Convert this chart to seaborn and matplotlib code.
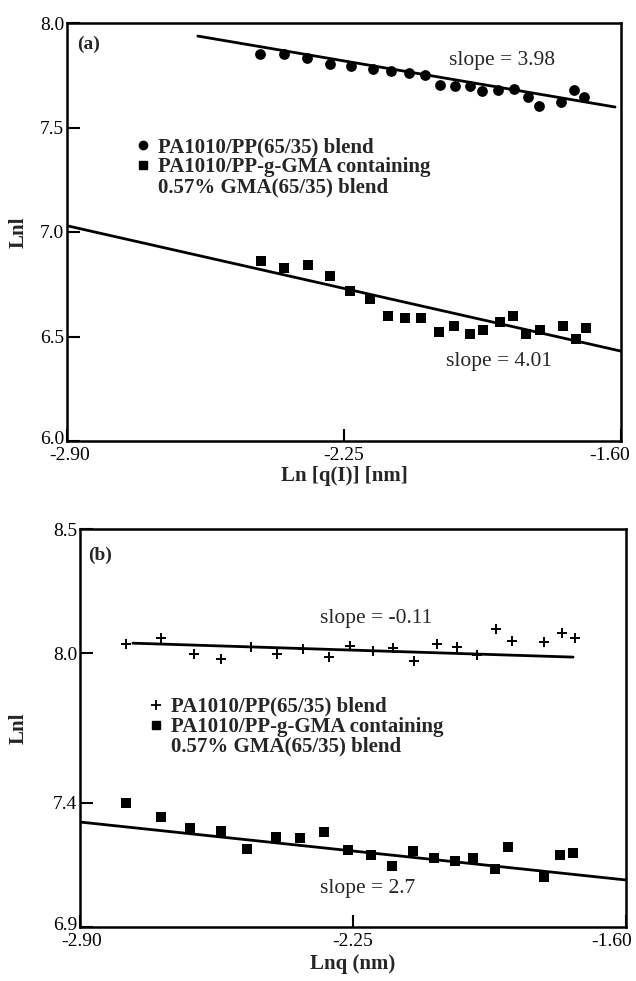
import numpy as np
import pandas as pd
import seaborn as sns
import matplotlib.pyplot as plt
import matplotlib.transforms as mtrans
from matplotlib.lines import Line2D

# ---- panel (a) : Ln I vs Ln q(I) ----
a_circ_x = [-2.448, -2.390, -2.336, -2.282, -2.233, -2.183, -2.140, -2.098, -2.059, -2.024,
            -1.989, -1.955, -1.926, -1.888, -1.852, -1.819, -1.792, -1.740, -1.711, -1.686]
a_circ_y = [7.852, 7.852, 7.831, 7.805, 7.792, 7.780, 7.770, 7.761, 7.750, 7.703,
            7.698, 7.698, 7.675, 7.680, 7.683, 7.648, 7.602, 7.620, 7.680, 7.644]
a_sq_x = [-2.445, -2.390, -2.335, -2.282, -2.237, -2.189, -2.146, -2.106, -2.070, -2.027,
          -1.993, -1.955, -1.925, -1.884, -1.853, -1.822, -1.791, -1.736, -1.705, -1.683]
a_sq_y = [6.86, 6.83, 6.84, 6.79, 6.72, 6.68, 6.60, 6.59, 6.59, 6.52,
          6.55, 6.51, 6.53, 6.57, 6.60, 6.51, 6.53, 6.55, 6.49, 6.54]
a_fit1_x = [-2.593, -1.614]
a_fit1_y = [7.9375, 7.598]
a_fit2_x = [-2.90, -1.60]
a_fit2_y = [7.03, 6.43]

# ---- panel (b) : Ln I vs Ln q ----
b_plus_x = [-2.791, -2.706, -2.628, -2.565, -2.493, -2.431, -2.368, -2.308, -2.258, -2.202,
            -2.155, -2.104, -2.051, -2.003, -1.954, -1.910, -1.872, -1.796, -1.752, -1.721]
b_plus_y = [8.038, 8.063, 7.997, 7.979, 8.025, 7.997, 8.016, 7.987, 8.031, 8.010,
            8.023, 7.969, 8.038, 8.025, 7.994, 8.098, 8.048, 8.044, 8.083, 8.060]
b_sq_x = [-2.791, -2.708, -2.638, -2.565, -2.502, -2.434, -2.376, -2.318, -2.263, -2.206,
          -2.157, -2.106, -2.058, -2.006, -1.964, -1.912, -1.881, -1.796, -1.757, -1.726]
b_sq_y = [7.400, 7.343, 7.298, 7.285, 7.215, 7.263, 7.256, 7.280, 7.208, 7.188,
          7.146, 7.205, 7.178, 7.166, 7.178, 7.133, 7.223, 7.099, 7.189, 7.197]
b_fit1_x = [-2.774, -1.726]
b_fit1_y = [8.041, 7.985]
b_fit2_x = [-2.90, -1.60]
b_fit2_y = [7.322, 7.089]

x_ticks = [-2.90, -2.25, -1.60]
a_yticks = [6.0, 6.5, 7.0, 7.5, 8.0]
b_yticks = [6.9, 7.4, 8.0, 8.5]

lab1 = "PA1010/PP(65/35) blend"
lab2 = "PA1010/PP-g-GMA containing"
lab3 = "0.57% GMA(65/35) blend"

sns.set_style("ticks")
plt.rcParams['font.family'] = ['Liberation Serif', 'DejaVu Serif']

fig = plt.figure(figsize=(6.36, 9.81), dpi=100)
ax1 = fig.add_axes([67/636, 1-441/981, 554/636, 418/981])
ax2 = fig.add_axes([80/636, 1-927/981, 546/636, 398/981])

# panel a
sns.lineplot(x=a_fit1_x, y=a_fit1_y, sort=False, color='black', lw=2, ax=ax1)
sns.lineplot(x=a_fit2_x, y=a_fit2_y, sort=False, color='black', lw=2, ax=ax1)
sns.scatterplot(x=a_circ_x, y=a_circ_y, marker='o', color='black', s=60, linewidth=0, ax=ax1)
sns.scatterplot(x=a_sq_x, y=a_sq_y, marker='s', color='black', s=48, linewidth=0, ax=ax1)

# panel b
sns.lineplot(x=b_fit1_x, y=b_fit1_y, sort=False, color='black', lw=2, ax=ax2)
sns.lineplot(x=b_fit2_x, y=b_fit2_y, sort=False, color='black', lw=2, ax=ax2)
sns.scatterplot(x=b_plus_x, y=b_plus_y, marker='+', color='black', s=60, linewidth=1.4, ax=ax2)
sns.scatterplot(x=b_sq_x, y=b_sq_y, marker='s', color='black', s=48, linewidth=0, ax=ax2)

# shifts (px) of the x tick labels, as in the scan
xlab_shift = {ax1: [3, 0, -11], ax2: [2, 0, -14]}

for ax, yt in [(ax1, a_yticks), (ax2, b_yticks)]:
    ax.set_xlim(-2.90, -1.60)
    ax.set_ylim(min(yt), max(yt))
    ax.set_xticks(x_ticks)
    ax.set_xticklabels([f"{t:.2f}" for t in x_ticks])
    ax.set_yticks(yt)
    ax.set_yticklabels([f"{t:.1f}" for t in yt])
    ax.tick_params(direction='in', length=9, width=1.5, labelsize=14, colors='black')
    ax.tick_params(axis='x', pad=4)
    ax.tick_params(axis='y', pad=2)
    for sp in ax.spines.values():
        sp.set_visible(True)
        sp.set_linewidth(1.8)
        sp.set_color('black')
    for lbl, dx in zip(ax.get_xticklabels(), xlab_shift[ax]):
        lbl.set_transform(lbl.get_transform() +
                          mtrans.ScaledTranslation(dx / 100, 0, fig.dpi_scale_trans))
    ylbl = ax.get_yticklabels()[0]
    ylbl.set_transform(ylbl.get_transform() +
                       mtrans.ScaledTranslation(0, 3 / 100, fig.dpi_scale_trans))
    ax.set_ylabel("Lnl", fontsize=15, fontweight='bold')

ax1.yaxis.set_label_coords(-0.070, 0.5)
ax2.yaxis.set_label_coords(-0.095, 0.5)
ax1.set_xlabel("Ln [q(I)] [nm]", fontsize=15, fontweight='bold', labelpad=2)
ax2.set_xlabel("Lnq (nm)", fontsize=15, fontweight='bold', labelpad=3)

ax1.text(-2.876, 7.898, "(a)", fontsize=14, fontweight='bold', va='center')
ax1.text(-1.88, 7.82, "slope = 3.98", fontsize=15.5, ha='center', va='center')
ax1.text(-1.886, 6.38, "slope = 4.01", fontsize=15.5, ha='center', va='center')
ax2.text(-2.88, 8.393, "(b)", fontsize=14, fontweight='bold', va='center')
ax2.text(-2.194, 8.142, "slope = -0.11", fontsize=15.5, ha='center', va='center')
ax2.text(-2.216, 7.054, "slope = 2.7", fontsize=15.5, ha='center', va='center')

blank = Line2D([], [], ls='none')
leg_a = [Line2D([], [], marker='o', color='k', ls='none', markersize=6),
         Line2D([], [], marker='s', color='k', ls='none', markersize=5.5), blank]
leg_b = [Line2D([], [], marker='+', color='k', ls='none', markersize=7, markeredgewidth=1.3),
         Line2D([], [], marker='s', color='k', ls='none', markersize=5.5), blank]
for ax, hnd, anchor in [(ax1, leg_a, (0.126, 0.727)), (ax2, leg_b, (0.128, 0.578))]:
    ax.legend(hnd, [lab1, lab2, lab3], loc='upper left', bbox_to_anchor=anchor,
              frameon=False, prop={'size': 15, 'weight': 'bold'}, handlelength=0.6,
              handletextpad=0.4, labelspacing=0.0, borderpad=0, borderaxespad=0)

fig.savefig("out.png", dpi=100)
